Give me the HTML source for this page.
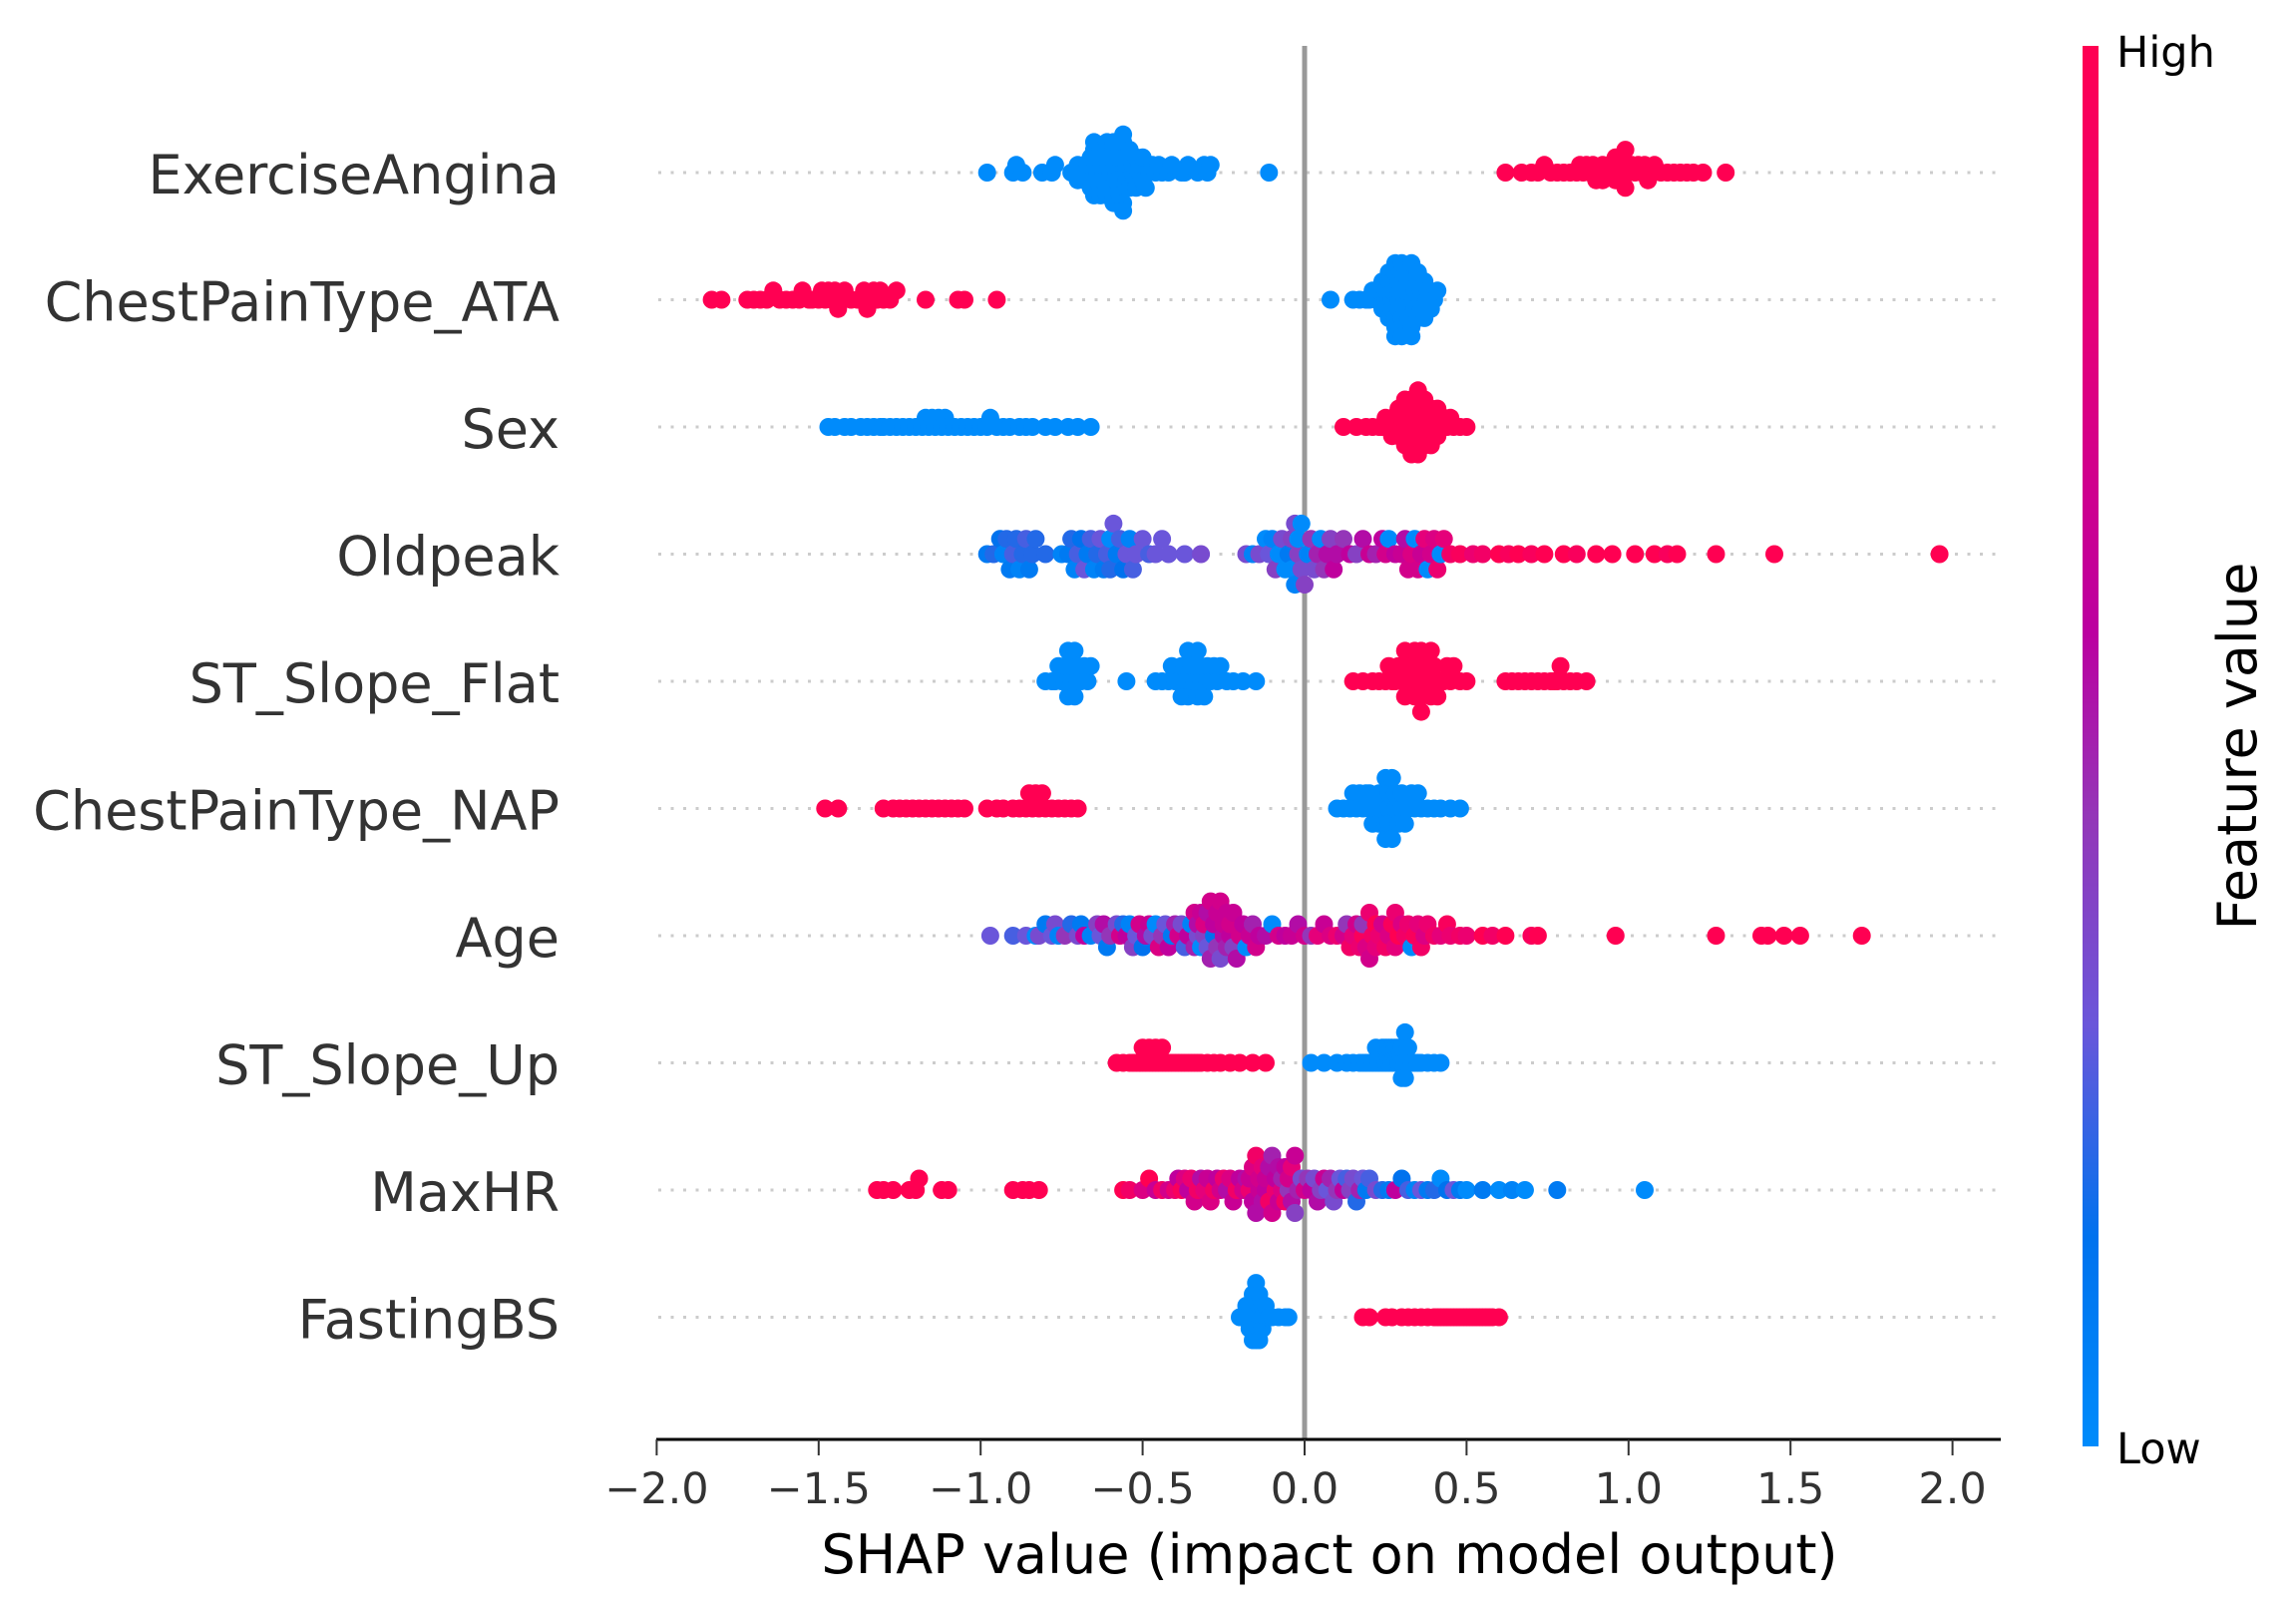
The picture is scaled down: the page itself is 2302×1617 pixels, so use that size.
<!DOCTYPE html>
<html><head><meta charset="utf-8"><style>
html,body{margin:0;padding:0;background:#fff;}
svg{display:block;}
text{font-family:"DejaVu Sans","Liberation Sans",sans-serif;}
</style></head><body>
<svg id="chart" width="2302" height="1617" viewBox="0 0 2302 1617" xmlns="http://www.w3.org/2000/svg">
<defs>
<linearGradient id="cbar" x1="0" y1="1" x2="0" y2="0">
<stop offset="0" stop-color="#008bfb"/><stop offset="0.15" stop-color="#0072ee"/><stop offset="0.3" stop-color="#6a56da"/><stop offset="0.45" stop-color="#9436b8"/><stop offset="0.58" stop-color="#bb00a0"/><stop offset="0.8" stop-color="#e5007a"/><stop offset="1" stop-color="#ff0052"/>
</linearGradient>
</defs>
<g id="grid"></g>
<line x1="1308" y1="46" x2="1308" y2="1443" stroke="#999" stroke-width="5"/>
<g id="dots"></g>
<g id="labels"></g>
<line x1="658" y1="1443" x2="2006" y2="1443" stroke="#000" stroke-width="3"/>
<g id="ticks"></g>
<text x="1333" y="1577" font-size="54" text-anchor="middle" fill="#000">SHAP value (impact on model output)</text>
<rect x="2088" y="46" width="16" height="1404" fill="url(#cbar)"/>
<text x="2122" y="67" font-size="43" fill="#000">High</text>
<text x="2122" y="1467" font-size="43" fill="#000">Low</text>
<text x="0" y="0" font-size="54" text-anchor="middle" fill="#000" transform="translate(2262,748) rotate(-90)">Feature value</text>
</svg>
<script>
const features = ["ExerciseAngina","ChestPainType_ATA","Sex","Oldpeak","ST_Slope_Flat","ChestPainType_NAP","Age","ST_Slope_Up","MaxHR","FastingBS"];
const tickValues = [-2.0,-1.5,-1.0,-0.5,0.0,0.5,1.0,1.5,2.0];
const tickLabels = ["\u22122.0","\u22121.5","\u22121.0","\u22120.5","0.0","0.5","1.0","1.5","2.0"];

const exerciseAnginaLow = [-0.98,-0.9,-0.89,-0.87,-0.81,-0.78,-0.77,-0.72,-0.71,-0.7,-0.7,-0.69,-0.68,-0.68,-0.67,-0.67,-0.66,-0.66,-0.66,-0.65,-0.65,-0.65,-0.64,-0.64,-0.64,-0.64,-0.63,-0.63,-0.63,-0.62,-0.62,-0.62,-0.62,-0.61,-0.61,-0.61,-0.61,-0.6,-0.6,-0.6,-0.6,-0.6,-0.59,-0.59,-0.59,-0.59,-0.58,-0.58,-0.58,-0.58,-0.57,-0.57,-0.57,-0.56,-0.56,-0.56,-0.56,-0.55,-0.55,-0.55,-0.54,-0.54,-0.54,-0.53,-0.53,-0.52,-0.52,-0.52,-0.51,-0.51,-0.5,-0.5,-0.49,-0.48,-0.47,-0.46,-0.45,-0.44,-0.42,-0.41,-0.38,-0.37,-0.36,-0.33,-0.31,-0.3,-0.29,-0.11];
const exerciseAnginaHigh = [0.62,0.67,0.7,0.72,0.74,0.76,0.78,0.8,0.82,0.84,0.85,0.86,0.87,0.88,0.89,0.9,0.91,0.92,0.92,0.93,0.94,0.95,0.95,0.96,0.96,0.97,0.97,0.98,0.98,0.99,0.99,1.0,1.01,1.02,1.03,1.04,1.05,1.06,1.07,1.08,1.1,1.12,1.14,1.16,1.18,1.2,1.23,1.3];
const ataLow = [0.08,0.15,0.17,0.19,0.2,0.21,0.22,0.23,0.24,0.24,0.25,0.25,0.25,0.26,0.26,0.26,0.27,0.27,0.27,0.27,0.28,0.28,0.28,0.28,0.28,0.29,0.29,0.29,0.29,0.3,0.3,0.3,0.3,0.3,0.31,0.31,0.31,0.32,0.32,0.32,0.33,0.33,0.33,0.34,0.34,0.34,0.35,0.35,0.35,0.36,0.36,0.36,0.37,0.37,0.38,0.38,0.39,0.4,0.41];
const ataHigh = [-1.83,-1.8,-1.72,-1.7,-1.68,-1.66,-1.64,-1.62,-1.6,-1.58,-1.56,-1.55,-1.53,-1.52,-1.5,-1.49,-1.48,-1.47,-1.46,-1.45,-1.44,-1.43,-1.42,-1.4,-1.38,-1.37,-1.36,-1.35,-1.34,-1.33,-1.32,-1.31,-1.3,-1.28,-1.26,-1.17,-1.07,-1.05,-0.95];
const sexLow = [-1.47,-1.45,-1.42,-1.4,-1.37,-1.35,-1.33,-1.31,-1.3,-1.28,-1.26,-1.24,-1.22,-1.2,-1.18,-1.17,-1.16,-1.15,-1.14,-1.13,-1.12,-1.11,-1.1,-1.08,-1.06,-1.04,-1.02,-1.0,-0.98,-0.97,-0.95,-0.93,-0.91,-0.88,-0.86,-0.84,-0.8,-0.77,-0.73,-0.7,-0.66];
const sexHigh = [0.12,0.16,0.19,0.21,0.23,0.24,0.25,0.26,0.27,0.27,0.28,0.28,0.29,0.29,0.3,0.3,0.3,0.31,0.31,0.31,0.32,0.32,0.32,0.33,0.33,0.33,0.33,0.34,0.34,0.34,0.34,0.35,0.35,0.35,0.35,0.36,0.36,0.36,0.37,0.37,0.37,0.38,0.38,0.38,0.39,0.39,0.4,0.4,0.41,0.41,0.42,0.43,0.44,0.45,0.46,0.48,0.5];
const flatLow = [-0.8,-0.78,-0.77,-0.76,-0.75,-0.74,-0.74,-0.73,-0.73,-0.72,-0.72,-0.71,-0.71,-0.7,-0.7,-0.69,-0.68,-0.67,-0.66,-0.55,-0.46,-0.44,-0.42,-0.41,-0.4,-0.39,-0.38,-0.38,-0.37,-0.37,-0.36,-0.36,-0.35,-0.35,-0.34,-0.34,-0.33,-0.33,-0.32,-0.32,-0.31,-0.3,-0.3,-0.29,-0.28,-0.27,-0.26,-0.24,-0.22,-0.19,-0.15];
const flatHigh = [0.15,0.18,0.21,0.23,0.25,0.26,0.27,0.28,0.29,0.3,0.3,0.31,0.31,0.32,0.32,0.33,0.33,0.34,0.34,0.35,0.35,0.36,0.36,0.36,0.37,0.37,0.38,0.38,0.39,0.39,0.4,0.4,0.41,0.42,0.43,0.44,0.45,0.46,0.48,0.5,0.62,0.64,0.66,0.68,0.7,0.72,0.74,0.76,0.77,0.78,0.79,0.8,0.82,0.84,0.87];
const napLow = [0.1,0.12,0.14,0.15,0.16,0.17,0.18,0.19,0.2,0.2,0.21,0.22,0.23,0.23,0.24,0.24,0.25,0.25,0.25,0.26,0.26,0.26,0.27,0.27,0.28,0.28,0.29,0.3,0.3,0.31,0.32,0.33,0.34,0.35,0.36,0.38,0.4,0.42,0.45,0.48];
const napHigh = [-1.48,-1.44,-1.3,-1.27,-1.25,-1.23,-1.21,-1.19,-1.17,-1.15,-1.13,-1.11,-1.09,-1.07,-1.05,-0.98,-0.95,-0.93,-0.9,-0.88,-0.86,-0.85,-0.84,-0.83,-0.82,-0.81,-0.8,-0.78,-0.76,-0.74,-0.72,-0.7];
const slopeUpLow = [0.02,0.06,0.1,0.13,0.15,0.17,0.18,0.19,0.2,0.21,0.22,0.22,0.23,0.24,0.24,0.25,0.25,0.26,0.26,0.27,0.27,0.28,0.28,0.29,0.29,0.3,0.3,0.3,0.31,0.31,0.31,0.31,0.32,0.32,0.33,0.34,0.35,0.36,0.38,0.4,0.42];
const slopeUpHigh = [-0.58,-0.56,-0.54,-0.53,-0.52,-0.51,-0.5,-0.5,-0.49,-0.48,-0.48,-0.47,-0.46,-0.46,-0.45,-0.44,-0.44,-0.43,-0.42,-0.41,-0.4,-0.39,-0.38,-0.37,-0.36,-0.35,-0.34,-0.33,-0.32,-0.3,-0.28,-0.26,-0.23,-0.2,-0.16,-0.12];
const fastingLow = [-0.2,-0.19,-0.18,-0.18,-0.17,-0.17,-0.17,-0.16,-0.16,-0.16,-0.16,-0.16,-0.15,-0.15,-0.15,-0.15,-0.15,-0.15,-0.14,-0.14,-0.14,-0.14,-0.14,-0.13,-0.13,-0.13,-0.12,-0.12,-0.11,-0.1,-0.08,-0.06,-0.05];
const fastingHigh = [0.18,0.2,0.25,0.27,0.3,0.32,0.34,0.36,0.38,0.4,0.41,0.42,0.43,0.44,0.45,0.46,0.47,0.48,0.49,0.5,0.51,0.52,0.53,0.54,0.55,0.56,0.57,0.58,0.6];

const oldpeakVals = [-0.98,-0.96,-0.94,-0.93,-0.92,-0.91,-0.9,-0.89,-0.88,-0.87,-0.86,-0.85,-0.84,-0.83,-0.8,-0.75,-0.73,-0.72,-0.71,-0.7,-0.69,-0.68,-0.67,-0.66,-0.65,-0.64,-0.63,-0.62,-0.61,-0.6,-0.6,-0.59,-0.58,-0.57,-0.56,-0.55,-0.54,-0.53,-0.52,-0.5,-0.48,-0.46,-0.44,-0.42,-0.37,-0.32,-0.18,-0.16,-0.14,-0.12,-0.11,-0.1,-0.09,-0.08,-0.07,-0.06,-0.05,-0.04,-0.04,-0.03,-0.03,-0.02,-0.02,-0.01,-0.01,0.0,0.01,0.02,0.03,0.04,0.05,0.06,0.07,0.08,0.09,0.1,0.12,0.14,0.16,0.18,0.2,0.22,0.24,0.25,0.26,0.28,0.3,0.31,0.32,0.33,0.34,0.35,0.36,0.37,0.38,0.39,0.4,0.41,0.42,0.43,0.45,0.48,0.52,0.55,0.6,0.63,0.66,0.7,0.74,0.8,0.84,0.9,0.95,1.02,1.08,1.12,1.15,1.27,1.45,1.96];
const oldpeakFv = [0.1,0.2,0.15,0.05,0.2,0.1,0.25,0.2,0.05,0.2,0.25,0.1,0.2,0.2,0.2,0.05,0.1,0.2,0.05,0.25,0.15,0.3,0.1,0.25,0.05,0.2,0.3,0.1,0.25,0.0,0.2,0.3,0.1,0.25,0.15,0.3,0.05,0.25,0.3,0.3,0.25,0.3,0.3,0.3,0.3,0.35,0.35,0.05,0.35,0.0,0.3,0.05,0.4,0.0,0.35,0.0,0.1,0.4,0.0,0.35,0.05,0.4,0.0,0.35,0.0,0.4,0.05,0.45,0.35,0.5,0.0,0.45,0.55,0.4,0.6,0.55,0.45,0.6,0.4,0.55,0.65,0.5,0.6,0.7,0.0,0.6,0.65,0.55,0.7,0.75,0.0,0.7,0.65,0.8,0.0,0.7,0.75,0.85,0.0,0.8,0.9,0.95,0.85,0.9,1.0,0.95,1.0,0.95,1.0,1.0,0.95,1.0,1.0,1.0,1.0,0.95,1.0,1.0,1.0,1.0];
const ageVals = [-0.97,-0.9,-0.86,-0.83,-0.82,-0.8,-0.78,-0.77,-0.76,-0.74,-0.72,-0.7,-0.69,-0.68,-0.66,-0.64,-0.63,-0.62,-0.61,-0.6,-0.58,-0.57,-0.56,-0.55,-0.54,-0.53,-0.52,-0.51,-0.5,-0.49,-0.48,-0.47,-0.46,-0.45,-0.44,-0.43,-0.42,-0.41,-0.4,-0.39,-0.38,-0.37,-0.36,-0.35,-0.34,-0.34,-0.33,-0.33,-0.32,-0.32,-0.31,-0.31,-0.3,-0.3,-0.29,-0.29,-0.28,-0.28,-0.27,-0.27,-0.26,-0.26,-0.25,-0.25,-0.24,-0.24,-0.23,-0.23,-0.22,-0.22,-0.21,-0.2,-0.19,-0.18,-0.17,-0.16,-0.15,-0.14,-0.12,-0.1,-0.08,-0.06,-0.04,-0.02,0.0,0.02,0.04,0.06,0.08,0.1,0.12,0.13,0.14,0.15,0.16,0.17,0.18,0.18,0.19,0.2,0.2,0.21,0.22,0.22,0.23,0.24,0.25,0.26,0.27,0.28,0.28,0.29,0.3,0.31,0.32,0.33,0.34,0.35,0.36,0.37,0.38,0.4,0.42,0.44,0.45,0.48,0.5,0.55,0.58,0.62,0.7,0.72,0.96,1.27,1.41,1.43,1.48,1.53,1.72];
const ageFv = [0.3,0.25,0.3,0.0,0.35,0.1,0.3,0.35,0.05,0.45,0.2,0.35,0.1,0.6,0.05,0.4,0.3,0.55,0.1,0.45,0.35,0.7,0.2,0.6,0.05,0.4,0.3,0.7,0.15,0.55,0.65,0.35,0.0,0.75,0.45,0.3,0.6,0.1,0.5,0.7,0.35,0.25,0.6,0.05,0.5,0.7,0.35,0.55,0.0,0.65,0.4,0.75,0.3,0.55,0.5,0.7,0.15,0.6,0.45,0.65,0.35,0.7,0.55,0.65,0.5,0.65,0.6,0.7,0.4,0.65,0.55,0.7,0.6,0.0,0.65,0.5,0.7,0.6,0.55,0.0,0.7,0.6,0.65,0.55,0.7,0.45,0.8,0.65,0.75,0.85,0.7,0.45,0.9,0.8,0.7,0.85,0.95,0.45,0.75,0.85,0.7,0.9,1.0,0.8,0.85,0.7,0.9,0.75,0.95,0.8,0.85,1.0,0.75,0.9,0.85,0.0,0.95,0.8,0.9,0.75,0.85,0.9,0.8,0.95,0.85,0.9,0.85,1.0,0.9,1.0,0.95,1.0,1.0,1.0,1.0,1.0,1.0,1.0,1.0];
const maxhrVals = [-1.32,-1.3,-1.27,-1.22,-1.2,-1.19,-1.12,-1.1,-0.9,-0.87,-0.85,-0.82,-0.56,-0.54,-0.5,-0.48,-0.46,-0.44,-0.42,-0.4,-0.39,-0.38,-0.37,-0.36,-0.35,-0.34,-0.33,-0.32,-0.31,-0.3,-0.29,-0.28,-0.27,-0.26,-0.25,-0.24,-0.23,-0.22,-0.21,-0.2,-0.19,-0.18,-0.17,-0.17,-0.16,-0.16,-0.15,-0.15,-0.14,-0.14,-0.13,-0.13,-0.12,-0.12,-0.11,-0.11,-0.1,-0.1,-0.09,-0.09,-0.08,-0.08,-0.07,-0.07,-0.06,-0.06,-0.05,-0.05,-0.04,-0.04,-0.03,-0.03,-0.02,-0.01,0.0,0.01,0.02,0.03,0.04,0.05,0.06,0.07,0.08,0.09,0.1,0.11,0.12,0.13,0.14,0.15,0.16,0.17,0.18,0.19,0.2,0.22,0.24,0.26,0.28,0.3,0.32,0.34,0.36,0.38,0.4,0.42,0.44,0.46,0.48,0.5,0.55,0.6,0.64,0.68,0.78,1.05];
const maxhrFv = [1.0,1.0,1.0,1.0,1.0,1.0,1.0,1.0,1.0,1.0,1.0,1.0,1.0,0.9,0.75,1.0,0.65,0.9,0.7,0.85,0.6,0.95,0.75,0.6,0.85,0.7,0.9,0.55,0.8,0.65,0.75,0.9,0.6,0.7,0.85,0.55,0.75,0.65,0.9,0.6,0.7,0.55,0.85,0.65,0.6,0.75,0.55,0.9,0.65,0.7,0.55,0.8,0.6,0.65,0.9,0.55,0.7,0.5,0.85,0.6,0.65,0.55,0.75,0.5,0.9,0.6,0.45,0.7,0.55,0.8,0.4,0.65,0.5,0.35,0.7,0.45,0.6,0.35,0.55,0.4,0.65,0.3,0.5,0.35,0.45,0.3,0.6,0.25,0.4,0.35,0.2,0.5,0.3,0.1,0.25,0.35,0.2,0.1,0.6,0.15,0.25,0.05,0.3,0.1,0.2,0.0,0.15,0.3,0.1,0.0,0.1,0.0,0.05,0.0,0.1,0.0];

const rowTop = 173, rowGap = 127.5;
const X0 = 1308, UNIT = 324.8;
function xScale(v){ return X0 + v*UNIT; }
function rowY(i){ return rowTop + i*rowGap; }

const STOPS = [[0,[0,139,251]],[0.15,[0,114,238]],[0.3,[106,86,218]],[0.45,[148,54,184]],[0.58,[187,0,160]],[0.8,[229,0,122]],[1,[255,0,82]]];
function colorFor(t){
  t = Math.max(0,Math.min(1,t));
  for (let k=1;k<STOPS.length;k++){
    if (t<=STOPS[k][0]){
      const a=STOPS[k-1], b=STOPS[k], f=(t-a[0])/(b[0]-a[0]);
      const c=a[1].map((v,j)=>Math.round(v+(b[1][j]-v)*f));
      return "rgb("+c.join(",")+")";
    }
  }
  return "rgb(255,0,82)";
}

function binaryRow(low, high){
  return { vals: low.concat(high), fv: low.map(()=>0).concat(high.map(()=>1)) };
}
const rows = [
  binaryRow(exerciseAnginaLow, exerciseAnginaHigh),
  binaryRow(ataLow, ataHigh),
  binaryRow(sexLow, sexHigh),
  { vals: oldpeakVals, fv: oldpeakFv },
  binaryRow(flatLow, flatHigh),
  binaryRow(napLow, napHigh),
  { vals: ageVals, fv: ageFv },
  binaryRow(slopeUpLow, slopeUpHigh),
  { vals: maxhrVals, fv: maxhrFv },
  binaryRow(fastingLow, fastingHigh)
];

const NS = "http://www.w3.org/2000/svg";
const grid = document.getElementById("grid");
const dotsG = document.getElementById("dots");
const labelsG = document.getElementById("labels");
const ticksG = document.getElementById("ticks");

features.forEach((name, i) => {
  const y = rowY(i);
  const gl = document.createElementNS(NS, "line");
  gl.setAttribute("x1", 660); gl.setAttribute("x2", 2006);
  gl.setAttribute("y1", y); gl.setAttribute("y2", y);
  gl.setAttribute("stroke", "#cccccc"); gl.setAttribute("stroke-width", 3);
  gl.setAttribute("stroke-dasharray", "3 9.5");
  
  
  grid.appendChild(gl);

  const t = document.createElementNS(NS, "text");
  t.setAttribute("x", 561); t.setAttribute("y", y + 21);
  t.setAttribute("text-anchor", "end"); t.setAttribute("font-size", 54);
  t.setAttribute("fill", "#333333");
  t.textContent = name;
  
  
  labelsG.appendChild(t);

  const r = rows[i];
  const n = r.vals.length;
  const mn = Math.min(...r.vals), mx = Math.max(...r.vals);
  const nbins = 100;
  const quant = r.vals.map(v => Math.round(nbins*(v-mn)/(mx-mn+1e-8)));
  const order = r.vals.map((v,k)=>k).sort((a,b)=> quant[a]-quant[b] || a-b);
  const ys = new Array(n).fill(0);
  let layer = 0, last = -1;
  order.forEach(k => {
    if (quant[k] !== last) layer = 0;
    ys[k] = Math.ceil(layer/2) * ((layer%2)*2 - 1);
    layer++; last = quant[k];
  });
  const maxY = Math.max(...ys.map(Math.abs));
  const scale = 0.9*0.4*rowGap/(maxY+1);
  for (let k=0;k<n;k++){
    const c = document.createElementNS(NS, "circle");
    c.setAttribute("cx", xScale(r.vals[k]).toFixed(1));
    c.setAttribute("cy", (y - ys[k]*scale).toFixed(1));
    c.setAttribute("r", 9);
    c.setAttribute("fill", colorFor(r.fv[k]));
    
    
    dotsG.appendChild(c);
  }
});

tickValues.forEach((v, i) => {
  const x = xScale(v);
  const tl = document.createElementNS(NS, "line");
  tl.setAttribute("x1", x); tl.setAttribute("x2", x);
  tl.setAttribute("y1", 1443); tl.setAttribute("y2", 1459);
  tl.setAttribute("stroke", "#333"); tl.setAttribute("stroke-width", 2);
  
  
  ticksG.appendChild(tl);
  const tt = document.createElementNS(NS, "text");
  tt.setAttribute("x", x); tt.setAttribute("y", 1507);
  tt.setAttribute("text-anchor", "middle"); tt.setAttribute("font-size", 43);
  tt.setAttribute("fill", "#333333");
  tt.textContent = tickLabels[i];
  
  
  ticksG.appendChild(tt);
});
</script>
</body></html>
